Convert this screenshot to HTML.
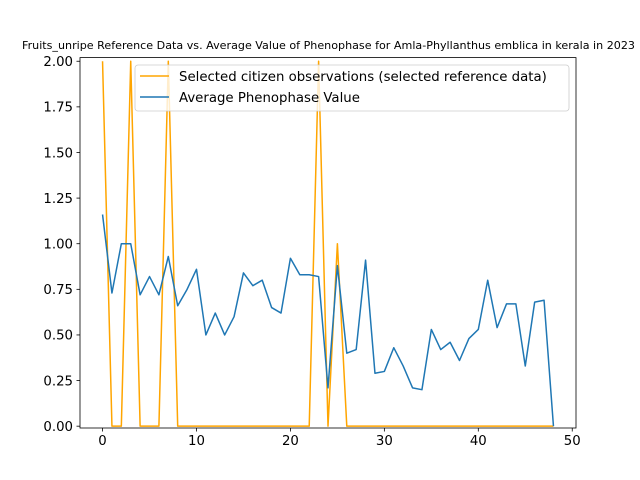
<!DOCTYPE html>
<html><head><meta charset="utf-8"><style>
html,body{margin:0;padding:0;background:#fff;}
svg{display:block;font-family:"DejaVu Sans","Liberation Sans",sans-serif;}
</style></head><body>
<svg id="chart" width="640" height="480" viewBox="0 0 640 480">
<rect width="640" height="480" fill="#fff"/>
<text x="22" y="49" font-size="11" textLength="613" lengthAdjust="spacingAndGlyphs">Fruits_unripe Reference Data vs. Average Value of Phenophase for Amla-Phyllanthus emblica in kerala in 2023</text>
<defs><clipPath id="clip"><rect x="80" y="57.6" width="496" height="370.4"/></clipPath></defs>
<g id="grid"></g>
<g id="series" clip-path="url(#clip)"></g>
<rect x="80" y="57.6" width="496" height="370.4" fill="none" stroke="#000" stroke-width="0.8"/>
<g id="xticks"></g>
<g id="yticks"></g>
<g>
<rect x="135" y="65" width="434" height="46" rx="3" fill="#fff" fill-opacity="0.8" stroke="#ccc" stroke-width="0.8"/>
<line x1="140" y1="76" x2="169" y2="76" stroke="orange" stroke-width="1.5"/>
<text x="179" y="81" font-size="13.3">Selected citizen observations (selected reference data)</text>
<line x1="140" y1="97" x2="169" y2="97" stroke="#1f77b4" stroke-width="1.5"/>
<text x="179" y="102" font-size="13.3">Average Phenophase Value</text>
</g>
</svg>
<script>
const xValues = Array.from({length:49},(_,i)=>i);
const referenceValues = [2,0,0,2,0,0,0,2,0,0,0,0,0,0,0,0,0,0,0,0,0,0,0,2,0,1,0,0,0,0,0,0,0,0,0,0,0,0,0,0,0,0,0,0,0,0,0,0,0];
const averageValues = [1.16,0.73,1.0,1.0,0.72,0.82,0.72,0.93,0.66,0.75,0.86,0.5,0.62,0.5,0.6,0.84,0.77,0.8,0.65,0.62,0.92,0.83,0.83,0.82,0.21,0.88,0.4,0.42,0.91,0.29,0.3,0.43,0.33,0.21,0.2,0.53,0.42,0.46,0.36,0.48,0.53,0.8,0.54,0.67,0.67,0.33,0.68,0.69,0.0];
const xTickValues = [0,10,20,30,40,50];
const yTickValues = [0,0.25,0.5,0.75,1.0,1.25,1.5,1.75,2.0];
const NS="http://www.w3.org/2000/svg";
const L=80,R=576,T=57.6,B=428, xmin=-2.4,xmax=50.4,ymin=-0.01,ymax=2.02;
const sx=v=>L+(v-xmin)/(xmax-xmin)*(R-L);
const sy=v=>B-(v-ymin)/(ymax-ymin)*(B-T);
function mk(tag,attrs,parent){const e=document.createElementNS(NS,tag);for(const k in attrs)e.setAttribute(k,attrs[k]);parent.appendChild(e);return e;}
const xt=document.getElementById('xticks'), yt=document.getElementById('yticks'), ser=document.getElementById('series');
xTickValues.forEach(v=>{
  const l=mk('line',{x1:sx(v),x2:sx(v),y1:B,y2:B+3.5,stroke:'#000','stroke-width':0.8},xt);
  
  
  const t=mk('text',{x:sx(v),y:B+17,'font-size':13.3,'text-anchor':'middle'},xt);
  t.textContent=v;
  
  
});
yTickValues.forEach(v=>{
  const l=mk('line',{x1:L-3.5,x2:L,y1:sy(v),y2:sy(v),stroke:'#000','stroke-width':0.8},yt);
  
  
  const t=mk('text',{x:L-7,y:sy(v)+4.8,'font-size':13.3,'text-anchor':'end'},yt);
  t.textContent=v.toFixed(2);
  
  
});
function line(vals,color,name){
  const p=mk('polyline',{points:vals.map((v,i)=>sx(xValues[i])+','+sy(v)).join(' '),fill:'none',stroke:color,'stroke-width':1.5,'stroke-linejoin':'round'},ser);
  
  
}
line(referenceValues,'orange','reference-line');
line(averageValues,'#1f77b4','average-line');
</script>
</body></html>
